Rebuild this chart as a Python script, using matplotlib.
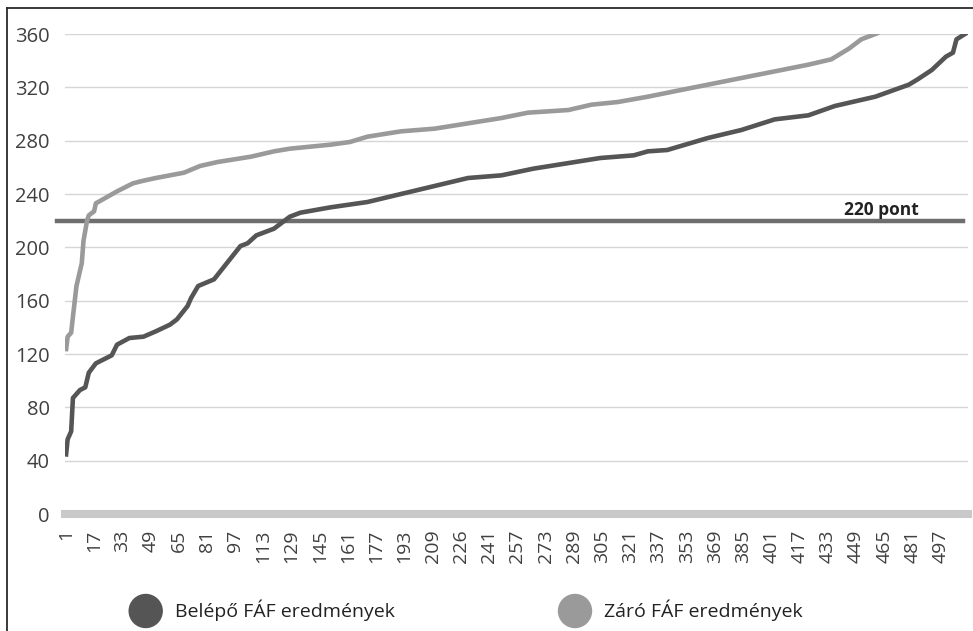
import matplotlib.pyplot as plt
from matplotlib.lines import Line2D
from matplotlib.patches import Circle

plt.rcParams['font.family'] = ['Open Sans', 'DejaVu Sans']

# === adatok ===
# Belépő FÁF eredmények: sorszám -> pontszám
belepo_x = [1, 2, 4, 5, 9, 12, 14, 18, 24, 27, 30, 37, 45, 52, 60, 64, 70, 72, 76, 85,
            88, 94, 100, 104, 109, 119, 128, 134, 151, 172, 191, 210, 229, 248, 266,
            285, 304, 323, 331, 342, 365, 384, 403, 422, 437, 460, 479, 484, 492, 500,
            504, 506, 512]
belepo_y = [43, 56, 62, 87, 93, 95, 106, 113, 117, 119, 127, 132, 133, 137, 142, 146, 156,
            162, 171, 176, 181, 191, 201, 203, 209, 214, 223, 226, 230, 234, 240, 246,
            252, 254, 259, 263, 267, 269, 272, 273, 282, 288, 296, 299, 306, 313, 322,
            326, 333, 343, 346, 356, 361]

# Záró FÁF eredmények
zaro_x = [1, 2, 4, 5, 7, 10, 11, 13, 14, 17, 18, 30, 39, 45, 52, 68, 77, 87, 106, 119,
          128, 151, 162, 172, 191, 210, 229, 248, 263, 286, 299, 314, 331, 346, 365, 384,
          403, 422, 435, 445, 452, 462]
zaro_y = [122, 133, 136, 148, 171, 188, 205, 220, 224, 227, 233, 242, 248, 250, 252, 256,
          261, 264, 268, 272, 274, 277, 279, 283, 287, 289, 293, 297, 301, 303, 307, 309,
          313, 317, 322, 327, 332, 337, 341, 349, 356, 361]

n_items = 512
threshold = 220
tick_pos = [1, 17, 33, 49, 65, 81, 97, 113, 129, 145, 161, 177, 193, 209, 225, 241, 257,
            273, 289, 305, 321, 337, 353, 369, 385, 401, 417, 433, 449, 465, 481, 497]
tick_labels = ['1', '17', '33', '49', '65', '81', '97', '113', '129', '145', '161', '177',
               '193', '209', '226', '241', '257', '273', '289', '305', '321', '337', '353',
               '369', '385', '401', '417', '433', '449', '465', '481', '497']
y_ticks = [0, 40, 80, 120, 160, 200, 240, 280, 320, 360]

dark = '#555555'
light = '#9a9a9a'
text_col = '#404040'

# === rajz ===
fig = plt.figure(figsize=(9.73, 6.31), dpi=100)
ax = fig.add_axes([0.0668, 0.1854, 0.928, 0.7607])

ax.set_xlim(0.5, n_items + 0.5)
ax.set_ylim(0, 360)

ax.plot(zaro_x, zaro_y, color=light, lw=3.3, solid_capstyle='butt', zorder=4)
ax.plot(belepo_x, belepo_y, color=dark, lw=3.3, solid_capstyle='butt', zorder=5)

# 220 pontos határvonal
ax.axhline(threshold, xmin=-0.009, xmax=0.9945, color='#6e6e6e', lw=3.2,
           clip_on=False, zorder=3)
ax.text(442, 224.5, '220 pont', fontsize=12.5, fontweight='bold', color='#222222',
        ha='left', va='baseline')

# 0-s tengely vastag szürke sáv
ax.axhline(0, color='#c9c9c9', lw=5.8, clip_on=False, zorder=2)

ax.set_yticks(y_ticks)
ax.set_yticklabels([str(v) for v in y_ticks])
ax.set_xticks(tick_pos)
ax.set_xticklabels(tick_labels, rotation=90)
ax.tick_params(axis='y', length=0, pad=11, labelsize=14.5, labelcolor=text_col)
ax.tick_params(axis='x', length=0, pad=11, labelsize=14, labelcolor=text_col)

ax.grid(True, axis='y', color='#d6d6d6', lw=1)
ax.set_axisbelow(True)
for s in ax.spines.values():
    s.set_visible(False)

# keret a bal és felső szélen
fig.add_artist(Line2D([7 / 973, 7 / 973], [0, 1 - 8 / 631], transform=fig.transFigure,
                      color='#2a2a2a', lw=1.3))
fig.add_artist(Line2D([7 / 973, 1], [1 - 8 / 631, 1 - 8 / 631], transform=fig.transFigure,
                      color='#2a2a2a', lw=1.3))

# jelmagyarázat
legend_items = [('Belépő FÁF eredmények', dark, 145.7), ('Záró FÁF eredmények', light, 575)]
for label, col, px in legend_items:
    fig.add_artist(Circle((px / 100, (631 - 611) / 100), 0.165, color=col,
                          transform=fig.dpi_scale_trans))
    fig.text((px + 29) / 973, 1 - 610 / 631, label, fontsize=14, color='#222222',
             ha='left', va='center')

fig.savefig('out.png', dpi=100)
